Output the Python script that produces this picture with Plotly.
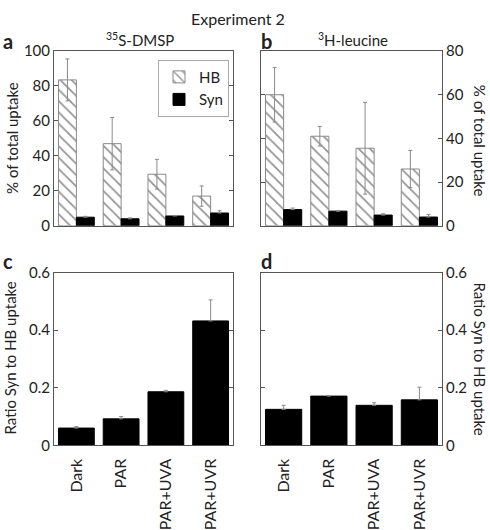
import plotly.graph_objects as go

categories = ["Dark", "PAR", "PAR+UVA", "PAR+UVR"]

# Panel a: 35S-DMSP, % of total uptake
a_hb = [83.5, 47, 29.5, 17.0]
a_hb_err = [12, 15, 8.5, 5.8]
a_syn = [4.9, 4.0, 5.6, 7.3]
a_syn_err = [0.5, 0.5, 0.3, 1.3]

# Panel b: 3H-leucine, % of total uptake
b_hb = [60, 41, 35.5, 26]
b_hb_err = [12.5, 4.5, 21, 8.5]
b_syn = [7.4, 6.7, 4.9, 4.0]
b_syn_err = [0.7, 0.2, 0.6, 1.2]

# Panel c / d: ratio Syn to HB uptake
c_ratio = [0.060, 0.092, 0.186, 0.432]
c_err = [0.005, 0.008, 0.005, 0.073]
d_ratio = [0.125, 0.171, 0.139, 0.158]
d_err = [0.014, 0.002, 0.009, 0.044]

FONT = "Lato"
AX = "#555555"
ERR = "#8a8a8a"

hb_marker = dict(color="white", line=dict(color="#8a8a8a", width=1),
                 pattern=dict(shape="\\", fgcolor="#2a2a2a", size=8, solidity=0.22))
syn_marker = dict(color="black", line=dict(color="black", width=1))

def err(vals, up_only=False):
    d = dict(type="data", array=vals, color=ERR, thickness=1, width=2, symmetric=not up_only)
    if up_only:
        d["arrayminus"] = [0 for _ in vals]
    return d

fig = go.Figure()
fig.add_trace(go.Bar(x=categories, y=a_hb, name="HB", marker=hb_marker,
                     error_y=err(a_hb_err), xaxis="x", yaxis="y", legendrank=1))
fig.add_trace(go.Bar(x=categories, y=a_syn, name="Syn", marker=syn_marker,
                     error_y=err(a_syn_err, True), xaxis="x", yaxis="y", legendrank=2))
fig.add_trace(go.Bar(x=categories, y=b_hb, name="HB", marker=hb_marker, showlegend=False,
                     error_y=err(b_hb_err), xaxis="x2", yaxis="y2"))
fig.add_trace(go.Bar(x=categories, y=b_syn, name="Syn", marker=syn_marker, showlegend=False,
                     error_y=err(b_syn_err, True), xaxis="x2", yaxis="y2"))
fig.add_trace(go.Bar(x=categories, y=c_ratio, marker=syn_marker, showlegend=False,
                     error_y=err(c_err, True), xaxis="x3", yaxis="y3"))
fig.add_trace(go.Bar(x=categories, y=d_ratio, marker=syn_marker, showlegend=False,
                     error_y=err(d_err, True), xaxis="x4", yaxis="y4"))

W, H = 490, 530
def px(x): return x / W
def py(y): return 1 - y / H

xl = [px(54), px(233)]
xr = [px(261), px(442)]
yt = [py(226), py(43)]
yb = [py(456), py(275)]

tickfont = dict(family=FONT, size=15, color="#222")
xcommon = dict(type="category", showline=True, linecolor=AX, linewidth=1, mirror=True,
               ticks="", tickfont=dict(family=FONT, size=16, color="#222"),
               range=[-0.5, 3.5], fixedrange=True, ticklabelstandoff=6)
ycommon = dict(showline=True, linecolor=AX, linewidth=1, mirror="ticks", ticks="inside",
               ticklen=4, tickcolor=AX, showgrid=False, zeroline=False, tickfont=tickfont)

fig.update_layout(
    width=W, height=H, margin=dict(l=0, r=0, t=0, b=0),
    paper_bgcolor="white", plot_bgcolor="white",
    barmode="group", bargap=0.2, bargroupgap=0,
    font=dict(family=FONT, size=15, color="#222"),
    xaxis=dict(domain=xl, anchor="y", showticklabels=False, **xcommon),
    yaxis=dict(domain=yt, anchor="x", range=[0, 100], dtick=20, side="left", **ycommon),
    xaxis2=dict(domain=xr, anchor="y2", showticklabels=False, **xcommon),
    yaxis2=dict(domain=yt, anchor="x2", range=[0, 80], dtick=20, side="right", **ycommon),
    xaxis3=dict(domain=xl, anchor="y3", tickangle=-90, **xcommon),
    yaxis3=dict(domain=yb, anchor="x3", range=[0, 0.6], tickvals=[0, 0.2, 0.4, 0.6],
                ticktext=["0", "0.2", "0.4", "0.6"], side="left", **ycommon),
    xaxis4=dict(domain=xr, anchor="y4", tickangle=-90, **xcommon),
    yaxis4=dict(domain=yb, anchor="x4", range=[0, 0.6], tickvals=[0, 0.2, 0.4, 0.6],
                ticktext=["0", "0.2", "0.4", "0.6"], side="right", **ycommon),
    legend=dict(x=px(158), y=py(52), xanchor="left", yanchor="top",
                bgcolor="white", bordercolor="#aaaaaa", borderwidth=1,
                font=dict(family=FONT, size=15, color="#222"),
                itemwidth=30, tracegroupgap=0),
    showlegend=True,
)

ann = []
def A(text, x, y, size=15, bold=False, angle=0, xanchor="center", yanchor="middle"):
    ann.append(dict(text=("<b>%s</b>" % text) if bold else text, x=px(x), y=py(y),
                    xref="paper", yref="paper", showarrow=False, textangle=angle,
                    xanchor=xanchor, yanchor=yanchor,
                    font=dict(family=FONT, size=size, color="#222")))

A("Experiment 2", 238, 9, size=16)
A("a", 1, 32, size=20, bold=True, xanchor="left")
A("b", 259, 32, size=20, bold=True, xanchor="left")
A("c", 1, 263, size=20, bold=True, xanchor="left")
A("d", 259, 263, size=20, bold=True, xanchor="left")
A("<sup>35</sup>S-DMSP", 140, 31, size=15)
A("<sup>3</sup>H-leucine", 353, 31, size=15)
A("% of total uptake", 12, 134, size=15, angle=-90)
A("% of total uptake", 480, 137, size=15, angle=90)
A("Ratio Syn to HB uptake", 10, 365, size=15, angle=-90)
A("Ratio Syn to HB uptake", 480, 365, size=15, angle=90)
fig.update_layout(annotations=ann)

fig.write_html("out.html", config={"displayModeBar": False},
               post_script="document.body.style.margin='0';document.body.style.overflow='hidden';")
